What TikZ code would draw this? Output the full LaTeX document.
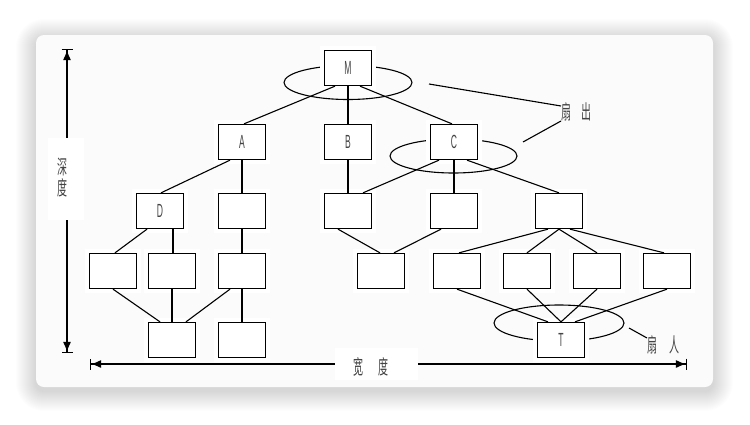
\documentclass[tikz,border=0pt]{standalone}
\usepackage{fontspec}
\setmainfont{Liberation Sans}
\newfontfamily\cjk{Noto Sans CJK SC}
\usepackage{graphicx}
\usetikzlibrary{arrows.meta,calc}
\definecolor{cardbg}{HTML}{FBFBFB}
\definecolor{txt}{HTML}{444444}
\begin{document}
\begin{tikzpicture}[x=1pt,y=-1pt,
  box/.style={draw,line width=1.3pt,fill=white,minimum width=47pt,minimum height=35pt,
    inner sep=0pt,preaction={draw=white,line width=9pt},text=txt,font=\fontsize{19}{19}\selectfont},
  conn/.style={line width=1.1pt},
  fan/.style={line width=1.1pt},
  cjklab/.style={inner sep=0pt,text=txt,font=\cjk\fontsize{20}{21}\selectfont},
  dim/.style={line width=1.1pt,{Bar[width=11pt,line width=1.1pt]Latex[length=10pt,width=8pt]}-{Latex[length=10pt,width=8pt]Bar[width=11pt,line width=1.1pt]}}
]
\useasboundingbox (0,0) rectangle (750,424);
\fill[white] (0,0) rectangle (750,424);
% shadow
\foreach \i in {1,...,20}{
  \pgfmathsetmacro\rr{8+\i}
  \fill[black,opacity=0.008,rounded corners=\rr pt] (36-\i,39-\i) rectangle (713+\i,391+\i);
}
\fill[cardbg,rounded corners=8pt] (36,35) rectangle (713,387);

% ellipses
\draw[fan] (348,82.5) ellipse [x radius=64, y radius=17];
\draw[fan] (453.5,156) ellipse [x radius=63.5, y radius=17];
\draw[fan] (559,323) ellipse [x radius=65, y radius=18];

\newcommand{\nx}[1]{\scalebox{0.45}[1]{#1}}
% nodes
\node[box] (M) at (348,68) {\nx{M}};
\node[box] (A) at (242,142) {\nx{A}};
\node[box] (B) at (348,142) {\nx{B}};
\node[box] (C) at (454,142) {\nx{C}};
\node[box] (D) at (160,211) {\nx{D}};
\node[box] (E) at (242,211) {};
\node[box] (F) at (348,211) {};
\node[box] (G) at (454,211) {};
\node[box] (H) at (559,211) {};
\node[box] (I1) at (113,271) {};
\node[box] (I2) at (172,271) {};
\node[box] (I3) at (242,271) {};
\node[box] (I4) at (381,271) {};
\node[box] (I5) at (457,271) {};
\node[box] (I6) at (527,271) {};
\node[box] (I7) at (597,271) {};
\node[box] (I8) at (667,271) {};
\node[box] (J1) at (172,340) {};
\node[box] (J2) at (242,340) {};
\node[box] (T) at (561,340) {\nx{T}};

% connectors
\draw[conn] ([xshift=-13pt]M.south) -- ([xshift=2pt]A.north);
\draw[conn] (M.south) -- (B.north);
\draw[conn] ([xshift=12pt]M.south) -- ([xshift=-2pt]C.north);
\draw[conn] ([xshift=-12pt]A.south) -- ([xshift=1pt]D.north);
\draw[conn] (A.south) -- (E.north);
\draw[conn] (B.south) -- (F.north);
\draw[conn] ([xshift=-15pt]C.south) -- ([xshift=15pt]F.north);
\draw[conn] (C.south) -- (G.north);
\draw[conn] ([xshift=13pt]C.south) -- (H.north);
\draw[conn] ([xshift=-13pt]D.south) -- ([xshift=2pt]I1.north);
\draw[conn] ([xshift=13pt]D.south) -- ([xshift=1pt]I2.north);
\draw[conn] (E.south) -- (I3.north);
\draw[conn] ([xshift=-10pt]F.south) -- ([xshift=-1pt]I4.north);
\draw[conn] ([xshift=-13pt]G.south) -- ([xshift=13pt]I4.north);
\draw[conn] ([xshift=-11pt]H.south) -- ([xshift=2pt]I5.north);
\draw[conn] (H.south) -- (I6.north);
\draw[conn] (H.south) -- (I7.north);
\draw[conn] ([xshift=11pt]H.south) -- ([xshift=-3pt]I8.north);
\draw[conn] (I1.south) -- ([xshift=-12pt]J1.north);
\draw[conn] (I2.south) -- (J1.north);
\draw[conn] ([xshift=-12pt]I3.south) -- ([xshift=14pt]J1.north);
\draw[conn] (I3.south) -- (J2.north);
\draw[conn] (I5.south) -- ([xshift=-13pt]T.north);
\draw[conn] (I6.south) -- (T.north);
\draw[conn] (I7.south) -- (T.north);
\draw[conn] (I8.south) -- ([xshift=14pt]T.north);

% fan labels
\node[cjklab,anchor=west] (fo) at (561,112) {\scalebox{0.5}[1]{扇\hspace{1em}出}};
\coordinate (fo1) at (429,84);
\coordinate (fo2) at (523,142);
\draw[fan] (fo1) -- ([yshift=6pt]fo.west);
\draw[fan] (fo2) -- ([yshift=-9pt]fo.west);
\node[cjklab,anchor=west] (fi) at (647,345) {\scalebox{0.5}[1]{扇\hspace{1.2em}人}};
\coordinate (fi1) at (629,328);
\draw[fan] (fi1) -- ([yshift=7pt]fi.west);

% dimension arrows
\coordinate (dtop) at (67,49);
\coordinate (dbot) at (67,353);
\draw[dim] (dtop) -- (dbot);
\coordinate (wl) at (90,364);
\coordinate (wr) at (687,364);
\draw[dim] (wl) -- (wr);
\node[fill=white,minimum width=36pt,minimum height=82pt,inner sep=0pt] (dbox) at (66,179) {};
\node[cjklab,align=center] (dlab) at (62,178) {\scalebox{0.5}[1]{深}\\\scalebox{0.5}[1]{度}};
\node[fill=white,minimum width=83pt,minimum height=32pt,inner sep=0pt] (wbox) at (376.5,364) {};
\node[cjklab] (wlab) at (371,367) {\scalebox{0.5}[1]{宽\hspace{1.5em}度}};
\end{tikzpicture}
\end{document}
